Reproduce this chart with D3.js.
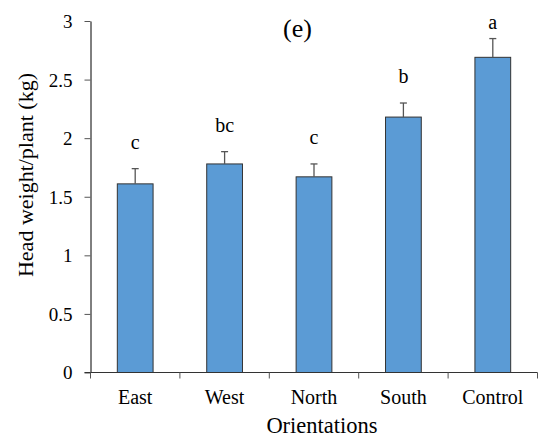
<!DOCTYPE html>
<html>
<head>
<meta charset="utf-8">
<script src="https://cdn.jsdelivr.net/npm/d3@7"></script>
<style>
  html, body { margin: 0; padding: 0; background: #fff; }
  svg { display: block; }
  svg text { font-family: "Liberation Serif", "DejaVu Serif", serif; fill: #000; }
</style>
</head>
<body>
<div id="chart"></div>
<script>
// Head weight per plant by orientation, with standard error and significance letters
const categories = ["East", "West", "North", "South", "Control"];
const means = [1.61, 1.78, 1.67, 2.18, 2.69];
const errors = [0.13, 0.105, 0.11, 0.12, 0.16];
const letters = ["c", "bc", "c", "b", "a"];
const yTicks = [0, 0.5, 1, 1.5, 2, 2.5, 3];

const W = 540, H = 439;
const margin = { left: 90.5, right: 2.5, top: 21, bottom: 66.5 };
const serif = "Liberation Serif, DejaVu Serif, serif";

const svg = d3.select("#chart").append("svg")
  .attr("width", W).attr("height", H);

const x = d3.scaleBand()
  .domain(categories)
  .range([margin.left, W - margin.right])
  .paddingInner(0).paddingOuter(0);

const y = d3.scaleLinear()
  .domain([0, 3])
  .range([H - margin.bottom, margin.top]);

const barW = x.bandwidth() * 0.4;

// Bars
svg.append("g").selectAll("rect")
  .data(categories)
  .join("rect")
  .attr("x", (d) => x(d) + (x.bandwidth() - barW) / 2)
  .attr("y", (d, i) => y(means[i]))
  .attr("width", barW)
  .attr("height", (d, i) => y(0) - y(means[i]))
  .attr("fill", "#5B9BD5")
  .attr("stroke", "#333")
  .attr("stroke-width", 1);

// Error bars (upper half only)
const eb = svg.append("g").attr("stroke", "#555").attr("stroke-width", 1.3);
categories.forEach((c, i) => {
  const cx = x(c) + x.bandwidth() / 2;
  eb.append("line")
    .attr("x1", cx).attr("x2", cx)
    .attr("y1", y(means[i])).attr("y2", y(means[i] + errors[i]));
  eb.append("line")
    .attr("x1", cx - 3.5).attr("x2", cx + 3.5)
    .attr("y1", y(means[i] + errors[i])).attr("y2", y(means[i] + errors[i]));
});

// Significance letters, kept inside the plot area
svg.append("g").selectAll("text")
  .data(categories)
  .join("text")
  .attr("x", (d) => x(d) + x.bandwidth() / 2)
  .attr("y", (d, i) => Math.max(y(means[i] + errors[i]) - 20, margin.top + 8))
  .attr("text-anchor", "middle")
  .attr("font-size", 20)
  .text((d, i) => letters[i]);

// Y axis
const yAxis = svg.append("g")
  .attr("transform", `translate(${margin.left},0)`)
  .call(d3.axisLeft(y).tickValues(yTicks).tickSize(6).tickSizeOuter(0)
    .tickFormat((d) => String(d)).tickPadding(12));
yAxis.attr("font-family", serif).attr("font-size", 19);
yAxis.select(".domain").attr("stroke", "#000");
yAxis.selectAll(".tick line").attr("stroke", "#555");
yAxis.selectAll(".tick text").attr("fill", "#000").attr("dy", "0.34em");

// X axis: ticks at category boundaries
const xBase = y(0);
svg.append("line")
  .attr("x1", margin.left - 6).attr("x2", W - margin.right)
  .attr("y1", xBase).attr("y2", xBase)
  .attr("stroke", "#333").attr("stroke-width", 1);
const bounds = categories.map((c) => x(c)).concat([x(categories[categories.length - 1]) + x.bandwidth()]);
svg.append("g").selectAll("line")
  .data(bounds)
  .join("line")
  .attr("x1", (d) => d).attr("x2", (d) => d)
  .attr("y1", xBase).attr("y2", xBase + 6)
  .attr("stroke", "#555");

svg.append("g").selectAll("text")
  .data(categories)
  .join("text")
  .attr("x", (d) => x(d) + x.bandwidth() / 2)
  .attr("y", xBase + 31)
  .attr("text-anchor", "middle")
  .attr("font-size", 20)
  .text((d) => d);

// Axis titles
svg.append("text")
  .attr("x", 322)
  .attr("y", 433)
  .attr("text-anchor", "middle")
  .attr("font-size", 22.5)
  .text("Orientations");

svg.append("text")
  .attr("transform", "translate(33,175) rotate(-90)")
  .attr("text-anchor", "middle")
  .attr("font-size", 22)
  .text("Head weight/plant (kg)");

// Panel label
svg.append("text")
  .attr("x", 297.5)
  .attr("y", 37)
  .attr("text-anchor", "middle")
  .attr("font-size", 26)
  .text("(e)");
</script>
</body>
</html>
